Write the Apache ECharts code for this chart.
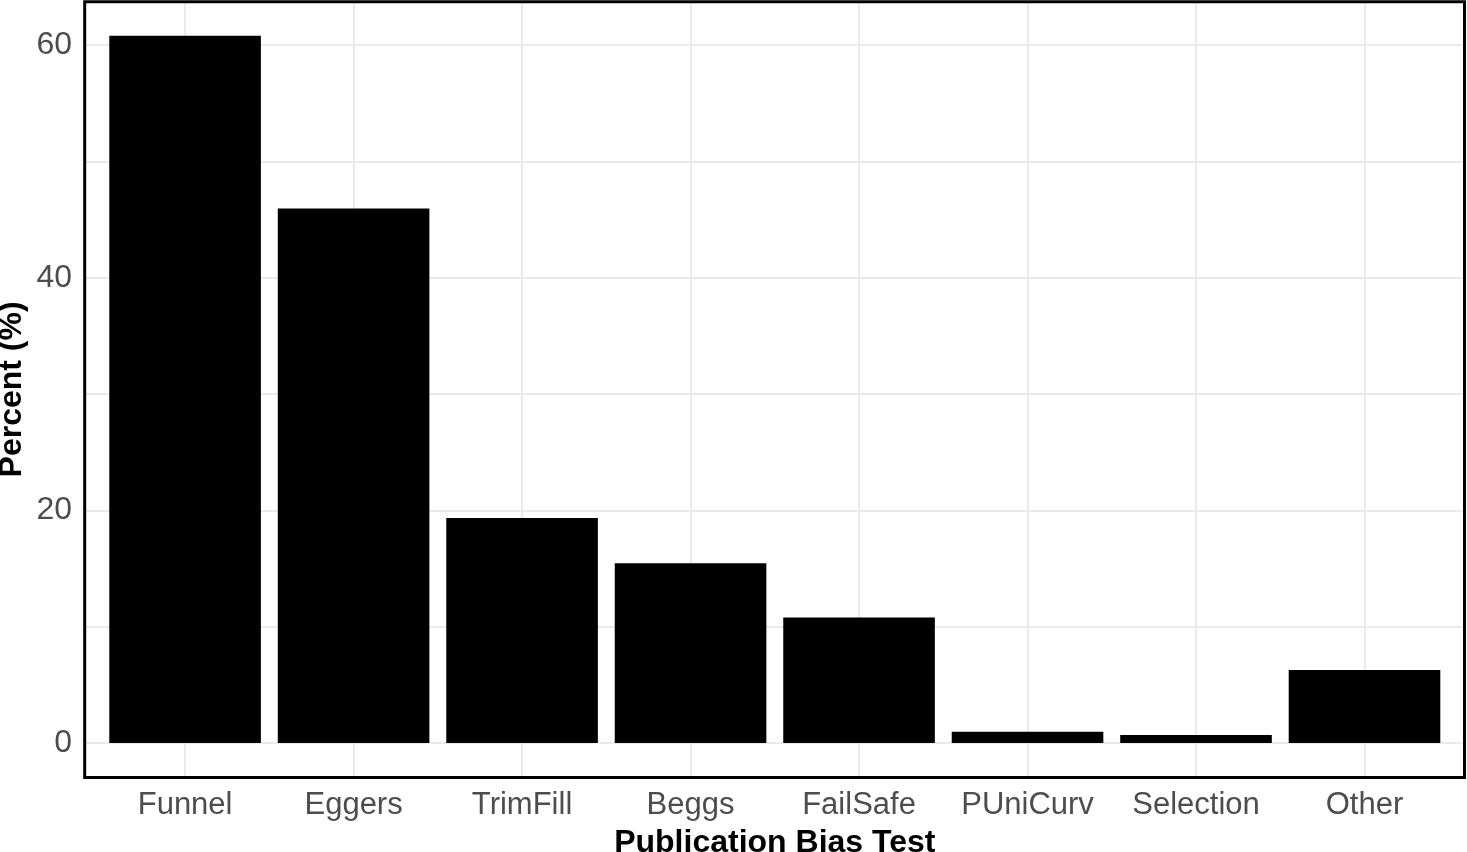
<!DOCTYPE html>
<html>
<head>
<meta charset="utf-8">
<script src="https://cdn.jsdelivr.net/npm/echarts@6/dist/echarts.min.js"></script>
<style>
html,body{margin:0;padding:0;background:#fff;}
#chart{width:1467px;height:852px;}
</style>
</head>
<body>
<div id="chart"></div>
<script>
var categories = ['Funnel', 'Eggers', 'TrimFill', 'Beggs', 'FailSafe', 'PUniCurv', 'Selection', 'Other'];
var percentValues = [60.8, 45.95, 19.35, 15.45, 10.8, 0.97, 0.69, 6.28];
var yTickLabels = [0, 20, 40, 60];
var yGridValues = [0, 10, 20, 30, 40, 50, 60];
var xPositions = [1, 2, 3, 4, 5, 6, 7, 8];

var barData = categories.map(function (c, i) { return [xPositions[i], percentValues[i]]; });

var chart = echarts.init(document.getElementById('chart'), null, {renderer: 'canvas'});
var font = '"Liberation Sans", Arial, sans-serif';
chart.setOption({
  animation: false,
  backgroundColor: '#ffffff',
  grid: {left: 84, right: 1.4, top: 0.4, bottom: 73.6, containLabel: false, outerBoundsMode: 'none'},
  xAxis: {
    type: 'value', min: 0.4, max: 8.6,
    name: 'Publication Bias Test', nameLocation: 'middle', nameGap: 49,
    nameTextStyle: {fontFamily: font, fontSize: 32, fontWeight: 'bold', color: '#000'},
    axisLine: {show: false},
    axisTick: {show: false, customValues: xPositions},
    axisLabel: {customValues: xPositions, margin: 12, fontFamily: font, fontSize: 31, color: '#4d4d4d',
      formatter: function (v) { return categories[Math.round(v) - 1] || ''; }},
    splitLine: {show: true, lineStyle: {color: '#ebebeb', width: 2}}
  },
  yAxis: {
    type: 'value', min: -3.04, max: 63.84,
    name: 'Percent (%)', nameLocation: 'middle', nameGap: 56, nameRotate: 90, nameMoveOverlap: false,
    nameTextStyle: {fontFamily: font, fontSize: 32, fontWeight: 'bold', color: '#000'},
    axisLine: {show: false},
    axisTick: {show: false, customValues: yGridValues},
    axisLabel: {customValues: yTickLabels, margin: 12, fontFamily: font, fontSize: 32, color: '#4d4d4d'},
    splitLine: {show: true, lineStyle: {color: '#ebebeb', width: 2}}
  },
  series: [{
    type: 'bar',
    data: barData,
    barWidth: 151.6,
    itemStyle: {color: '#000000'},
    silent: true
  }],
  graphic: [{
    type: 'rect', z: 100, silent: true,
    shape: {x: 84.7, y: 1.7, width: 1379.8, height: 775.8},
    style: {fill: 'none', stroke: '#000', lineWidth: 3}
  }]
});
</script>
</body>
</html>
